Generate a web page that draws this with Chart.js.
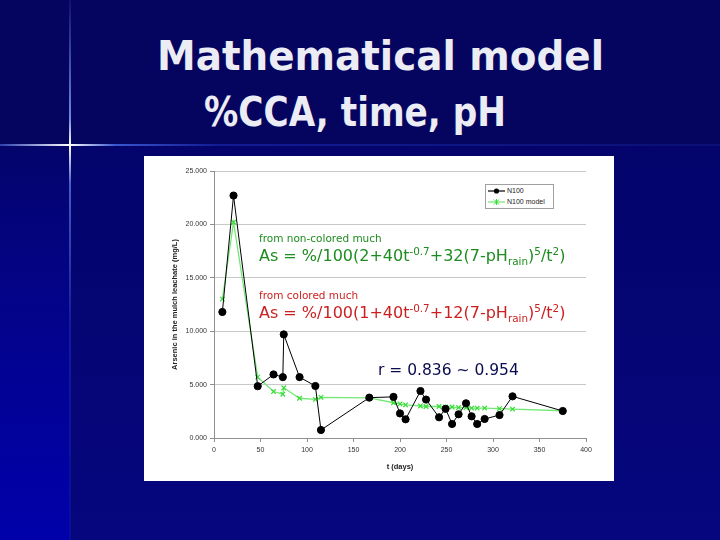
<!DOCTYPE html>
<html>
<head>
<meta charset="utf-8">
<script src="https://cdn.jsdelivr.net/npm/chart.js@4.4.0/dist/chart.umd.min.js"></script>
<style>
  body { margin: 0; width: 720px; height: 540px; overflow: hidden; font-family: "DejaVu Sans", Verdana, sans-serif; }
  #slide { position: absolute; left: 0; top: 0; width: 720px; height: 540px;
    background: linear-gradient(to bottom, #050560 0%, #050560 27%, #04046c 27.2%, #06067e 100%); }
  #leftcol { position: absolute; left: 0; top: 146px; width: 70px; height: 394px;
    background: linear-gradient(to bottom, rgba(0,0,170,0) 0%, rgba(0,0,175,0.9) 100%); }
  #vline { position: absolute; left: 69px; top: 0; width: 2px; height: 540px;
    background: linear-gradient(to bottom, rgba(90,120,255,0.1) 0%, rgba(140,170,255,0.8) 22%, #ffffff 27%, rgba(120,150,255,0.6) 34%, rgba(40,60,200,0.4) 60%, rgba(40,60,200,0.15) 100%); }
  #hline { position: absolute; left: 0; top: 144px; width: 720px; height: 2px;
    background: linear-gradient(to right, rgba(80,120,255,0.5) 0%, #ffffff 9.7%, rgba(80,120,255,0.7) 16%, rgba(30,50,200,0.5) 30%, rgba(20,30,150,0.4) 100%); }
  .tline { position: absolute; white-space: nowrap; color: #ececf4; transform-origin: 0 0;
    font-family: "DejaVu Sans", sans-serif; font-weight: bold; font-size: 40px; line-height: 48px; }
  #panel { position: absolute; left: 144px; top: 156px; width: 470px; height: 325px; background: #ffffff; }
  #chart { position: absolute; left: 0; top: 0; }
  .note { position: absolute; white-space: nowrap; font-family: "DejaVu Sans", Verdana, sans-serif; }
  .small { font-size: 10.5px; }
  .big { font-size: 16px; }
  .green { color: #1e8c1e; }
  .red { color: #cc1f1f; }
  sup, sub { font-size: 65%; line-height: 0; }
  #legend { position: absolute; left: 341px; top: 28px; width: 67px; height: 23px; border: 1px solid #a0a0a0;
    background: #fff; font-family: Arial, "Liberation Sans", sans-serif; font-size: 7px; color: #222; }
  .lrow { position: absolute; left: 2px; width: 64px; height: 10px; line-height: 10px; white-space: nowrap; }
  .lrow svg { position: absolute; left: 0; top: 0; }
  .lrow span { position: absolute; left: 19px; top: 0; }
</style>
</head>
<body>
<div id="slide"></div>
<div id="leftcol"></div>
<div id="vline"></div>
<div id="hline"></div>
<div class="tline" id="t1" style="top:32px">Mathematical model</div>
<div class="tline" id="t2" style="top:88px">%CCA, time, pH</div>
<div id="panel">
  <canvas id="chart" width="470" height="325"></canvas>
  <div id="legend">
    <div class="lrow" style="top:1px">
      <svg width="18" height="10"><line x1="0" y1="5" x2="17" y2="5" stroke="#000" stroke-width="1.2"/><circle cx="8.5" cy="5" r="2.6" fill="#000"/></svg>
      <span>N100</span>
    </div>
    <div class="lrow" style="top:12px">
      <svg width="18" height="10"><line x1="0" y1="5" x2="17" y2="5" stroke="#6fe86f" stroke-width="1.2"/><path d="M6 2.5 L11 7.5 M11 2.5 L6 7.5 M8.5 2 L8.5 8" stroke="#33dd33" stroke-width="1"/></svg>
      <span>N100 model</span>
    </div>
  </div>
  <div class="note small green" style="left:115px; top:76px">from non-colored much</div>
  <div class="note big green" style="left:115px; top:90px">As = %/100(2+40t<sup>-0.7</sup>+32(7-pH<sub>rain</sub>)<sup>5</sup>/t<sup>2</sup>)</div>
  <div class="note small red" style="left:115px; top:133px">from colored much</div>
  <div class="note big red" style="left:115px; top:147px">As = %/100(1+40t<sup>-0.7</sup>+12(7-pH<sub>rain</sub>)<sup>5</sup>/t<sup>2</sup>)</div>
  <div class="note big" style="left:234px; top:205px; font-size:15.5px; color:#0b0b50">r = 0.836 ~ 0.954</div>
</div>

<script>
// days of sampling
const days = [9, 21, 47, 64, 74, 75, 92, 109, 115, 167, 193, 200, 206, 222, 228, 242, 249, 256, 263, 271, 277, 283, 291, 307, 321, 375];
// measured arsenic, N100 (mg/L)
const measured = [11.8, 22.7, 4.85, 5.95, 5.7, 9.7, 5.7, 4.87, 0.75, 3.78, 3.85, 2.3, 1.75, 4.4, 3.6, 1.94, 2.73, 1.31, 2.22, 3.25, 2.03, 1.31, 1.78, 2.15, 3.9, 2.53];
// model values, N100 model
const modelVals = [13.0, 20.2, 5.7, 4.35, 4.1, 4.7, 3.72, 3.62, 3.8, 3.75, 3.3, 3.2, 3.1, 3.0, 2.95, 2.95, 2.9, 2.9, 2.85, 2.85, 2.8, 2.8, 2.8, 2.75, 2.7, 2.55];
// axis ticks
const xTicks = [0, 50, 100, 150, 200, 250, 300, 350, 400];
const yTicks = [0, 5, 10, 15, 20, 25];

// squeeze each title line to the width it has on the slide
function fitLine(id, left, width) {
  const el = document.getElementById(id);
  const w = el.getBoundingClientRect().width;
  el.style.left = left + 'px';
  el.style.transform = 'scaleX(' + (width / w) + ')';
}
fitLine('t1', 157, 447);
fitLine('t2', 204, 302);

function toPoints(xs, ys) {
  return xs.map((x, i) => ({ x: x, y: ys[i] }));
}

const ctx = document.getElementById('chart').getContext('2d');
const myChart = new Chart(ctx, {
  type: 'scatter',
  data: {
    datasets: [
      {
        label: 'N100 model',
        data: toPoints(days, modelVals),
        showLine: true,
        borderColor: '#74e874',
        borderWidth: 1.3,
        pointStyle: 'crossRot',
        pointRadius: 3.2,
        pointBorderColor: '#33dd33',
        pointBorderWidth: 1.2,
        order: 2,
      },
      {
        label: 'N100',
        data: toPoints(days, measured),
        showLine: true,
        borderColor: '#000000',
        borderWidth: 1,
        pointStyle: 'circle',
        pointRadius: 3.6,
        pointBackgroundColor: '#000000',
        pointBorderColor: '#000000',
        order: 1,
      },
    ],
  },
  options: {
    responsive: false,
    animation: false,
    devicePixelRatio: 1,
    layout: { padding: { top: 15, right: 28, left: 0, bottom: 0 } },
    plugins: { legend: { display: false }, tooltip: { enabled: false } },
    scales: {
      x: {
        type: 'linear',
        min: 0,
        max: 400,
        afterBuildTicks: (scale) => { scale.ticks = xTicks.map((v) => ({ value: v })); },
        afterFit: (scale) => { scale.height = 43; },
        ticks: { color: '#333', font: { size: 7, family: 'Arial, Liberation Sans' }, padding: 4, maxRotation: 0 },
        grid: { drawOnChartArea: false, drawTicks: true, tickLength: 4, color: '#909090' },
        border: { color: '#909090' },
        title: { display: true, text: 't (days)', color: '#222', font: { size: 7.5, weight: 'bold', family: 'Arial, Liberation Sans' }, padding: { top: 2, bottom: 10 } },
      },
      y: {
        min: 0,
        max: 25,
        afterBuildTicks: (scale) => { scale.ticks = yTicks.map((v) => ({ value: v })); },
        afterFit: (scale) => { scale.width = 70; },
        ticks: { color: '#333', font: { size: 7, family: 'Arial, Liberation Sans' }, padding: 3, callback: (v) => v.toFixed(3) },
        grid: { color: '#c8c8c8', tickColor: '#909090', drawTicks: true, tickLength: 4 },
        border: { color: '#909090' },
        title: { display: true, text: 'Arsenic in the mulch leachate (mg/L)', color: '#222', font: { size: 7.5, weight: 'bold', family: 'Arial, Liberation Sans' }, padding: { top: 26, bottom: 0 } },
      },
    },
  },
});
</script>
</body>
</html>
